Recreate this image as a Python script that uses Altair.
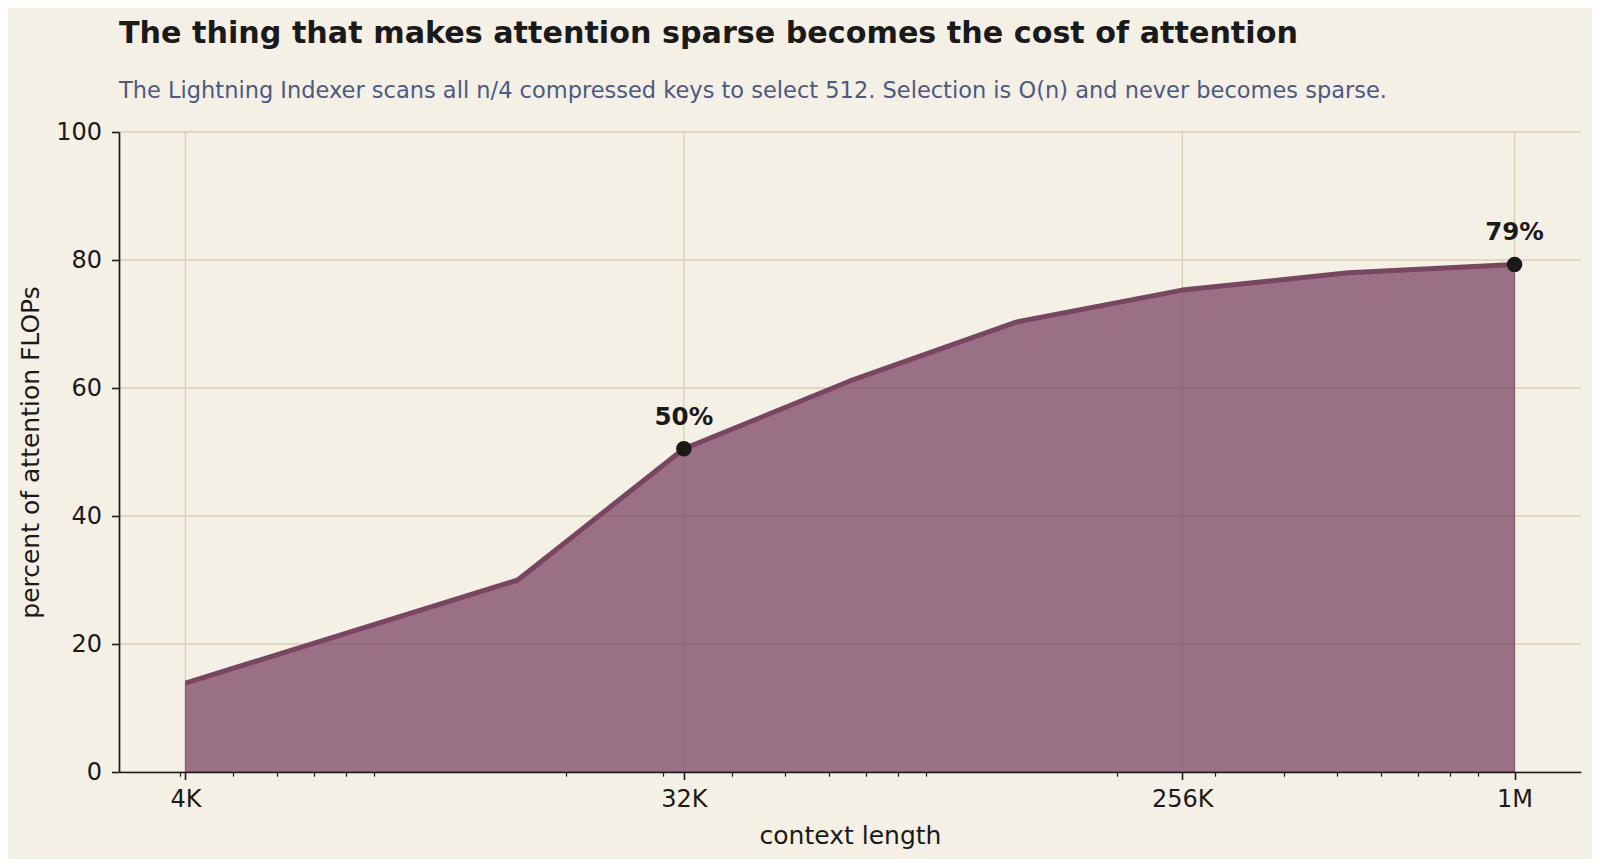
import altair as alt
import pandas as pd

# ---- data ----
context = [4096, 16384, 32768, 65536, 131072, 262144, 524288, 1048576]
share = [13.9, 30.0, 50.5, 61.1, 70.3, 75.3, 78.0, 79.3]

annot_context = [32768, 1048576]
annot_share = [50.5, 79.3]
annot_text = ["50%", "79%"]

major_ticks = [4096, 32768, 262144, 1048576]
major_labels = ["4K", "32K", "256K", "1M"]
minor_ticks = [4000, 5000, 6000, 7000, 8000, 9000,
               20000, 30000, 40000, 50000, 60000, 70000, 80000, 90000,
               200000, 300000, 400000, 500000, 600000, 700000, 800000, 900000]
y_ticks = [0, 20, 40, 60, 80, 100]
x_domain = [3104, 1383604]
y_domain = [0, 100]

# ---- styles ----
BG = "#f5f0e6"
INK = "#1a1a1a"
LINE = "#7a4462"
GRID = "#dccdb1"
SUB = "#4b5a80"
FONT = "DejaVu Sans"

df = pd.DataFrame({"context": context, "share": share})
ann = pd.DataFrame({"context": annot_context, "share": annot_share, "label": annot_text})
vgrid = pd.DataFrame({"context": major_ticks})
hgrid = pd.DataFrame({"share": y_ticks})

is_major = "indexof([" + ",".join(str(v) for v in major_ticks) + "], datum.value) >= 0"
label_expr = ""
for v, l in zip(major_ticks, major_labels):
    label_expr += f"datum.value == {v} ? '{l}' : "
label_expr += "''"

x_scale = alt.Scale(type="log", domain=x_domain, nice=False)
y_scale = alt.Scale(domain=y_domain, nice=False)

x_enc = alt.X(
    "context:Q",
    scale=x_scale,
    axis=alt.Axis(
        values=sorted(major_ticks + minor_ticks),
        labelExpr=label_expr,
        labelFlush=False,
        labelOverlap=False,
        grid=False,
        tickSize={"condition": {"test": is_major, "value": 7.5}, "value": 4.2},
        tickWidth={"condition": {"test": is_major, "value": 1.6}, "value": 1.2},
        title="context length",
        titleY=71,
        titleBaseline="alphabetic",
        labelPadding=8,
        zindex=1,
    ),
)

y_enc = alt.Y(
    "share:Q",
    scale=y_scale,
    axis=alt.Axis(
        values=y_ticks,
        grid=False,
        title="percent of attention FLOPs",
        titleX=-89,
        titleY=320,
        titleAlign="center",
        titleBaseline="middle",
        tickSize=7.5,
        tickWidth=1.6,
        labelPadding=10,
        zindex=1,
    ),
)

# grid lines drawn beneath the filled area (through the chart's scales)
vlines = alt.Chart(vgrid).mark_rule(color=GRID, strokeWidth=1.3).encode(
    x=alt.X("context:Q", scale=x_scale),
    y=alt.datum(y_domain[0]),
    y2=alt.datum(y_domain[1]),
)
hlines = alt.Chart(hgrid).mark_rule(color=GRID, strokeWidth=1.3).encode(
    y=alt.Y("share:Q", scale=y_scale),
    x=alt.datum(x_domain[0]),
    x2=alt.datum(x_domain[1]),
)

base = alt.Chart(df).encode(x=x_enc, y=y_enc)

area = base.mark_area(
    fill=LINE, fillOpacity=0.74, stroke=LINE, strokeOpacity=0.74, strokeWidth=1.2
)
line = base.mark_line(color=LINE, strokeWidth=5, strokeJoin="round")

pts_base = alt.Chart(ann).encode(x="context:Q", y="share:Q")
pts = pts_base.mark_circle(size=240, color=INK, opacity=1)
txt = pts_base.mark_text(
    dy=-24, baseline="alphabetic", align="center", fontWeight="bold",
    fontSize=24.5, font=FONT, color=INK
).encode(text="label:N")

chart = (
    alt.layer(base.mark_point(opacity=0), vlines, hlines, area, line, pts, txt)
    .properties(
        width=1462,
        height=640,
        padding={"left": 111, "top": 124, "right": 11, "bottom": 87},
        autosize=alt.AutoSizeParams(type="none"),
        background=BG,
        title=alt.TitleParams(
            text="The thing that makes attention sparse becomes the cost of attention",
            subtitle="The Lightning Indexer scans all n/4 compressed keys to select 512. Selection is O(n) and never becomes sparse.",
            anchor="start",
            frame="group",
            font=FONT,
            fontSize=30.2,
            fontWeight="bold",
            color=INK,
            subtitleFont=FONT,
            subtitleFontSize=22.5,
            subtitleColor=SUB,
            subtitlePadding=30,
            offset=18,
        ),
    )
    .configure_view(stroke=None)
    .configure_axis(
        domainColor=INK,
        domainWidth=1.7,
        tickColor=INK,
        labelColor=INK,
        labelFont=FONT,
        labelFontSize=24,
        titleColor=INK,
        titleFont=FONT,
        titleFontSize=25,
        titleFontWeight="normal",
    )
)

chart.save("out.html", embed_options={"renderer": "svg", "actions": False})
